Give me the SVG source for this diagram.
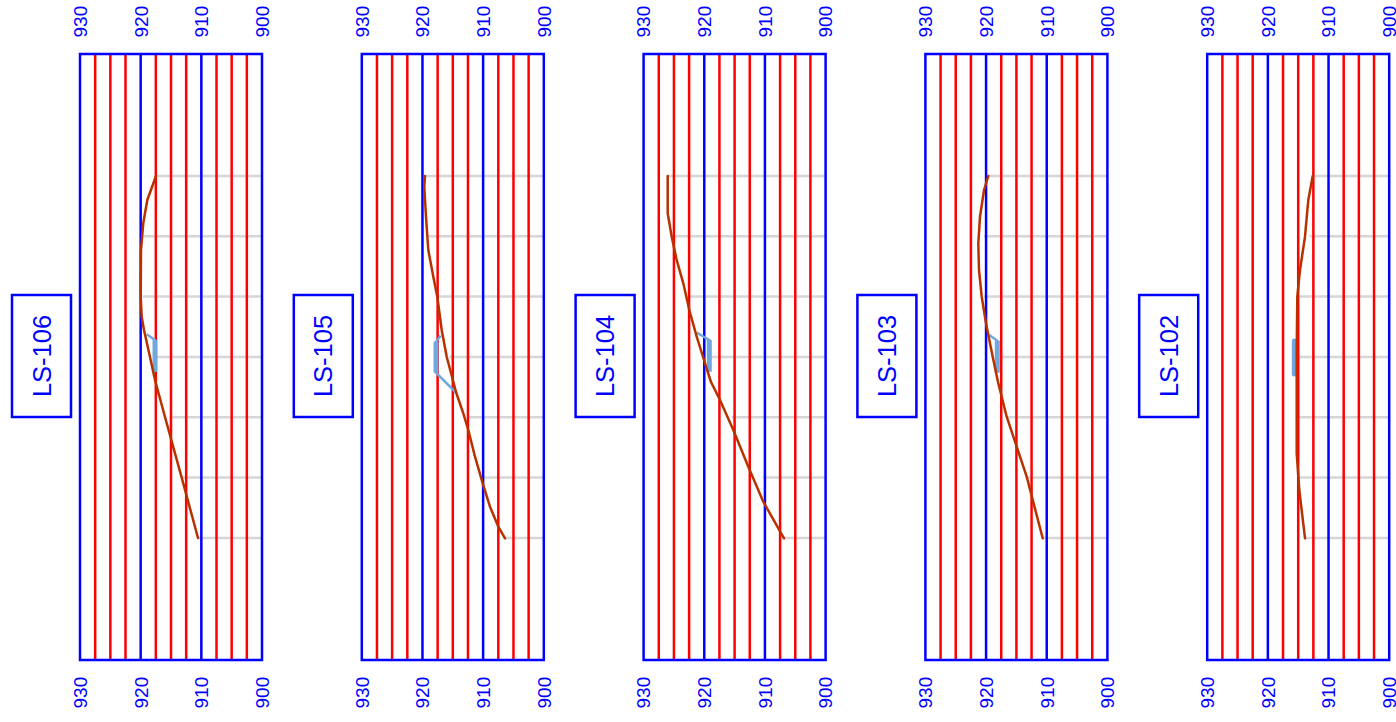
<svg xmlns="http://www.w3.org/2000/svg" width="1396" height="722" viewBox="0 0 1396 722">
<style>
.bg{fill:#ffffff}
.frame{fill:none;stroke:#0000ff;stroke-width:2.5}
.vr{stroke:#ff0000;stroke-width:2.5}
.vb{stroke:#0000ff;stroke-width:2.5}
.st{stroke:#d6d6d6;stroke-width:2.5}
.prof{fill:none;stroke:#b83200;stroke-width:2.5;stroke-linejoin:round;stroke-linecap:round}
.wat{fill:none;stroke:#6fa8dc;stroke-width:2.5;stroke-linejoin:round}
.watv{stroke:#6fa8dc;stroke-width:5}
.ax{font-family:"Liberation Sans",Arial,sans-serif;font-size:19px;fill:#0000ff}
.lbl{font-family:"Liberation Sans",Arial,sans-serif;font-size:25.5px;fill:#0000ff;text-anchor:middle}
.lbox{fill:#ffffff;stroke:#0000ff;stroke-width:2.5}
</style>
<defs>
<g id="grid">
<line class="vr" x1="15.17" y1="54" x2="15.17" y2="660"/>
<line class="vr" x1="30.33" y1="54" x2="30.33" y2="660"/>
<line class="vr" x1="45.5" y1="54" x2="45.5" y2="660"/>
<line class="vb" x1="60.67" y1="54" x2="60.67" y2="660"/>
<line class="vr" x1="75.83" y1="54" x2="75.83" y2="660"/>
<line class="vr" x1="91" y1="54" x2="91" y2="660"/>
<line class="vr" x1="106.17" y1="54" x2="106.17" y2="660"/>
<line class="vb" x1="121.33" y1="54" x2="121.33" y2="660"/>
<line class="vr" x1="136.5" y1="54" x2="136.5" y2="660"/>
<line class="vr" x1="151.67" y1="54" x2="151.67" y2="660"/>
<line class="vr" x1="166.83" y1="54" x2="166.83" y2="660"/>
<rect class="frame" x="0" y="54" width="182" height="606"/>
</g>
<g id="axes">
<text class="ax" transform="translate(6.8,37.5) rotate(-90)">930</text>
<text class="ax" transform="translate(67.5,37.5) rotate(-90)">920</text>
<text class="ax" transform="translate(128.1,37.5) rotate(-90)">910</text>
<text class="ax" transform="translate(188.8,37.5) rotate(-90)">900</text>
<text class="ax" transform="translate(6.8,708.5) rotate(-90)">930</text>
<text class="ax" transform="translate(67.5,708.5) rotate(-90)">920</text>
<text class="ax" transform="translate(128.1,708.5) rotate(-90)">910</text>
<text class="ax" transform="translate(188.8,708.5) rotate(-90)">900</text>
</g>
</defs>
<rect class="bg" x="0" y="0" width="1396" height="722"/>

<g id="panel-LS-106">
<line class="st" x1="156" y1="176" x2="262" y2="176"/>
<line class="st" x1="142.7" y1="236.3" x2="262" y2="236.3"/>
<line class="st" x1="142.7" y1="296.6" x2="262" y2="296.6"/>
<line class="st" x1="156" y1="357" x2="262" y2="357"/>
<line class="st" x1="169.3" y1="417.3" x2="262" y2="417.3"/>
<line class="st" x1="182.7" y1="477.6" x2="262" y2="477.6"/>
<line class="st" x1="198.3" y1="538" x2="262" y2="538"/>
<use href="#grid" transform="translate(80,0)"/>
<use href="#axes" transform="translate(80,0)"/>
<polyline class="wat" points="146.7,334.3 155,340 155,372"/>
<line class="watv" x1="155" y1="340" x2="155" y2="372"/>
<polyline class="prof" points="156,176 147.3,200 143.3,223 141,250 140.7,296.7 141.7,316.7 144,330 150,357 155,380 160.4,400 165,417 181.7,477.6 198,538"/>
<rect class="lbox" x="12" y="295" width="59" height="122"/>
<text class="lbl" transform="translate(50.6,356) rotate(-90)">LS-106</text>
</g>

<g id="panel-LS-105">
<line class="st" x1="425" y1="176" x2="543.8" y2="176"/>
<line class="st" x1="428.3" y1="236.3" x2="543.8" y2="236.3"/>
<line class="st" x1="436" y1="296.6" x2="543.8" y2="296.6"/>
<line class="st" x1="449.3" y1="357" x2="543.8" y2="357"/>
<line class="st" x1="466.7" y1="417.3" x2="543.8" y2="417.3"/>
<line class="st" x1="482.7" y1="477.6" x2="543.8" y2="477.6"/>
<line class="st" x1="505" y1="538" x2="543.8" y2="538"/>
<use href="#grid" transform="translate(361.8,0)"/>
<use href="#axes" transform="translate(361.8,0)"/>
<polyline class="wat" points="440.7,335.7 436,341.7 436,372.7 456,392.7"/>
<line class="watv" x1="436" y1="341.7" x2="436" y2="372.7"/>
<polyline class="prof" points="425,176 424.3,186.7 426,216.7 428.3,250 433.3,276.7 437.3,296.7 441.7,330 446.7,356.7 456.3,393 463.3,413.3 468.3,430 475,456.7 482.7,483.3 490,506.7 498.3,526.7 505,538.3"/>
<rect class="lbox" x="293.8" y="295" width="59" height="122"/>
<text class="lbl" transform="translate(332.4,356) rotate(-90)">LS-105</text>
</g>

<g id="panel-LS-104">
<line class="st" x1="667.7" y1="176" x2="825.6" y2="176"/>
<line class="st" x1="672" y1="236.3" x2="825.6" y2="236.3"/>
<line class="st" x1="687.3" y1="296.6" x2="825.6" y2="296.6"/>
<line class="st" x1="711" y1="357" x2="825.6" y2="357"/>
<line class="st" x1="731.7" y1="417.3" x2="825.6" y2="417.3"/>
<line class="st" x1="762.7" y1="477.6" x2="825.6" y2="477.6"/>
<line class="st" x1="784" y1="538" x2="825.6" y2="538"/>
<use href="#grid" transform="translate(643.6,0)"/>
<use href="#axes" transform="translate(643.6,0)"/>
<polyline class="wat" points="696.7,332.7 709.3,340 709.3,371.7"/>
<line class="watv" x1="709.3" y1="340" x2="709.3" y2="371.7"/>
<polyline class="prof" points="667.7,176 667.7,213.3 671.7,236.7 676.7,260 683.3,283.3 689.3,310 696.7,336.7 704,360 711,382 720,400 733.3,430 748.3,466.7 763.3,501.7 784,538.3"/>
<rect class="lbox" x="575.6" y="295" width="59" height="122"/>
<text class="lbl" transform="translate(614.2,356) rotate(-90)">LS-104</text>
</g>

<g id="panel-LS-103">
<line class="st" x1="988.3" y1="176" x2="1107.4" y2="176"/>
<line class="st" x1="984" y1="236.3" x2="1107.4" y2="236.3"/>
<line class="st" x1="984" y1="296.6" x2="1107.4" y2="296.6"/>
<line class="st" x1="1000" y1="357" x2="1107.4" y2="357"/>
<line class="st" x1="1007.5" y1="417.3" x2="1107.4" y2="417.3"/>
<line class="st" x1="1028" y1="477.6" x2="1107.4" y2="477.6"/>
<line class="st" x1="1042.7" y1="538" x2="1107.4" y2="538"/>
<use href="#grid" transform="translate(925.4,0)"/>
<use href="#axes" transform="translate(925.4,0)"/>
<polyline class="wat" points="989.3,335 997.3,340.7 997.3,372.7"/>
<line class="watv" x1="997.3" y1="340.7" x2="997.3" y2="372.7"/>
<polyline class="prof" points="988.3,176 984,190 980,216.7 978.3,243.3 979,270 981.7,296.7 986,323.3 992.7,356.7 998,382 1006.7,416.7 1016.7,446.7 1026.7,476.7 1042.7,538.3"/>
<rect class="lbox" x="857.4" y="295" width="59" height="122"/>
<text class="lbl" transform="translate(896,356) rotate(-90)">LS-103</text>
</g>

<g id="panel-LS-102">
<line class="st" x1="1312.7" y1="176" x2="1389.2" y2="176"/>
<line class="st" x1="1309.5" y1="236.3" x2="1389.2" y2="236.3"/>
<line class="st" x1="1299.5" y1="296.6" x2="1389.2" y2="296.6"/>
<line class="st" x1="1297.3" y1="357" x2="1389.2" y2="357"/>
<line class="st" x1="1297.3" y1="417.3" x2="1389.2" y2="417.3"/>
<line class="st" x1="1300" y1="477.6" x2="1389.2" y2="477.6"/>
<line class="st" x1="1305" y1="538" x2="1389.2" y2="538"/>
<use href="#grid" transform="translate(1207.2,0)"/>
<use href="#axes" transform="translate(1207.2,0)"/>
<line class="watv" x1="1294.3" y1="341" x2="1294.3" y2="374" stroke-linecap="round"/>
<polyline class="prof" points="1312.7,176 1308.3,200 1305,236.7 1300,270 1297.3,296.7 1296.7,350 1296.7,400 1296.7,453.3 1299.3,490 1305,538.3"/>
<rect class="lbox" x="1139.2" y="295" width="59" height="122"/>
<text class="lbl" transform="translate(1177.8,356) rotate(-90)">LS-102</text>
</g>

<g id="connectors"></g>
</svg>
